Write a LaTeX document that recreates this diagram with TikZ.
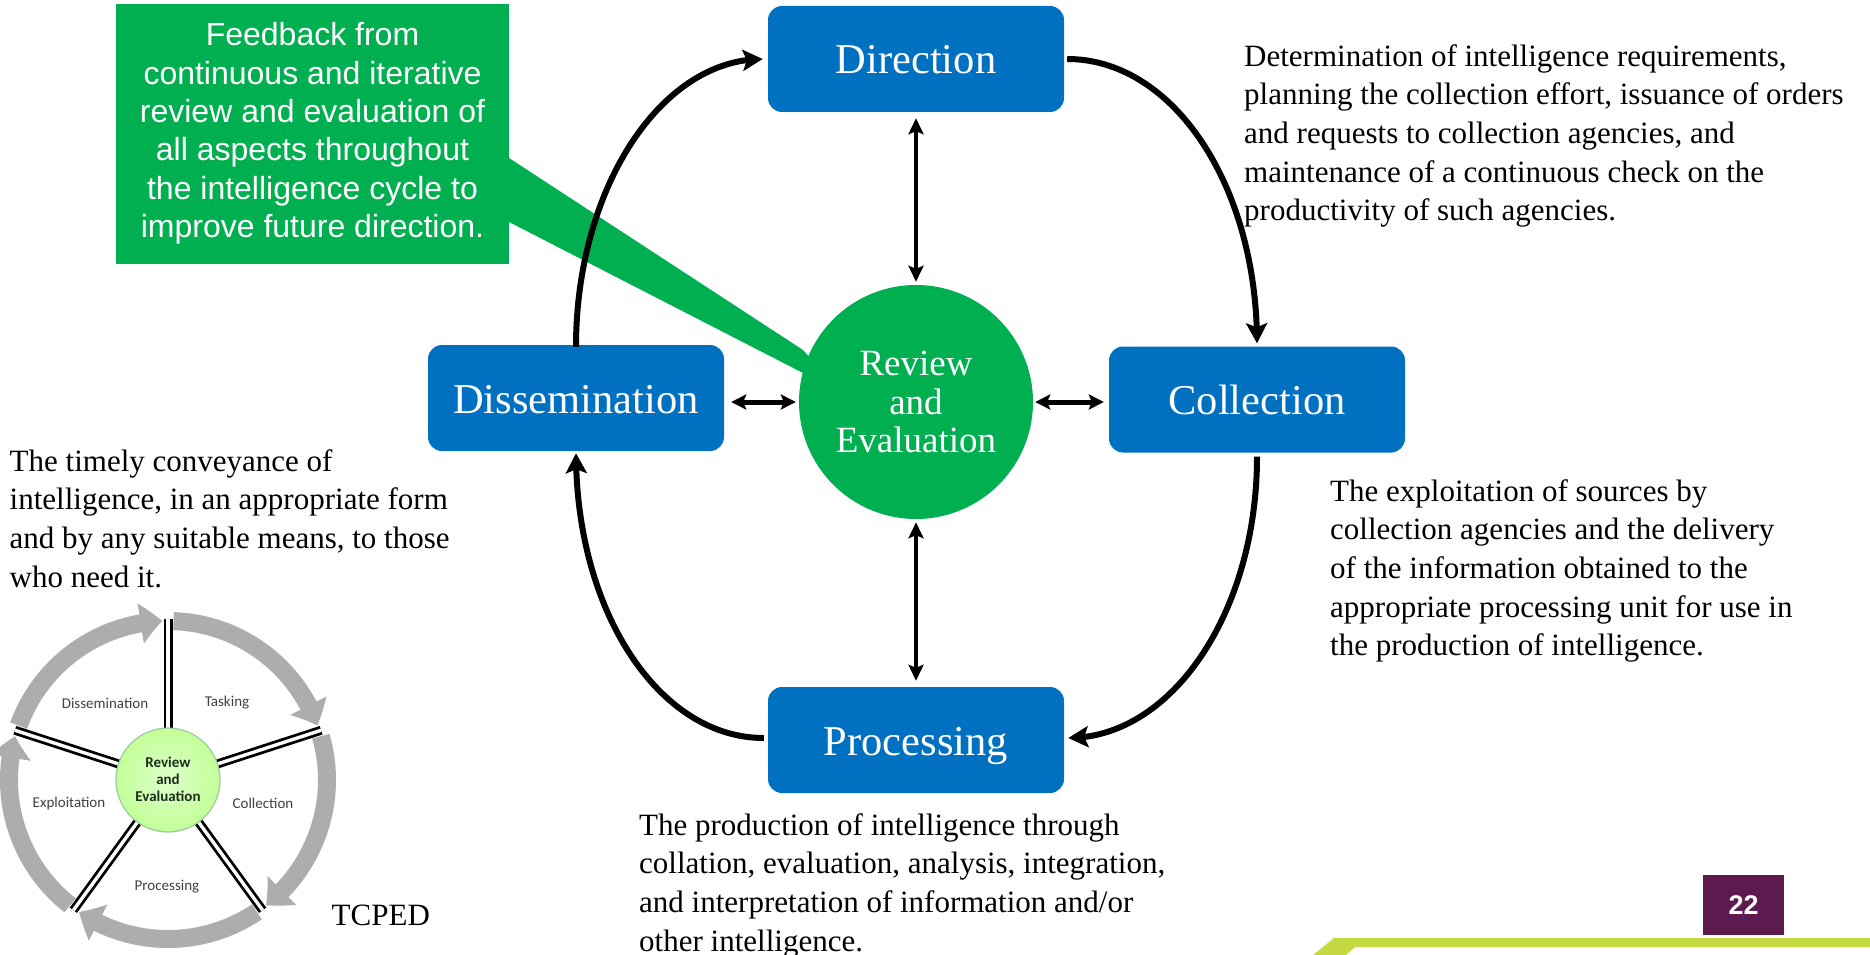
\documentclass[tikz,border=0pt]{standalone}
\usepackage{fontspec}
\setmainfont{Liberation Serif}
\newfontfamily\calloutfont{Liberation Sans}
\newfontfamily\wheelfont{Carlito}
\usetikzlibrary{arrows.meta,calc,bending}
\definecolor{boxblue}{HTML}{0070C0}
\definecolor{rvgreen}{HTML}{00B050}
\definecolor{pagepurple}{HTML}{5C1A4F}
\definecolor{barlime}{HTML}{C4D942}
\definecolor{ringgrey}{HTML}{ADADAD}
\definecolor{wheeltext}{HTML}{404040}
\definecolor{hubtext}{HTML}{1E2E1E}
\begin{document}
\begin{tikzpicture}[x=1pt,y=1pt,
  stagebox/.style={fill=boxblue, rounded corners=14pt, minimum width=296pt,
    minimum height=106pt, text=white, inner sep=0pt, text height=30pt, text depth=0pt,
    font=\fontsize{42.5}{44}\selectfont},
  note/.style={anchor=north west, align=left, inner sep=0pt,
    font=\fontsize{31}{38.7}\selectfont},
  cyc/.style={line width=6pt, -{Stealth[length=20pt,width=21pt,inset=4pt]}},
  hlink/.style={line width=5pt, {Stealth[length=15pt,width=15pt,inset=3pt]}-{Stealth[length=15pt,width=15pt,inset=3pt]}},
  vlink/.style={line width=3.5pt, {Stealth[length=16pt,width=15pt,inset=3pt]}-{Stealth[length=16pt,width=15pt,inset=3pt]}},
  ringarrow/.style={line width=18pt, ringgrey, -{Triangle[length=22pt,width=39pt,bend]}},
  spoke/.style={line width=9pt, black},
  spokegap/.style={line width=3.4pt, white},
  wheellabel/.style={font=\wheelfont\fontsize{15}{17}\selectfont, text=wheeltext, inner sep=0pt}
]
\useasboundingbox (0,0) rectangle (1870,-955);

% feedback callout with its pointer towards the hub
\fill[rvgreen] (509,-158) -- (803,-350) -- (830,-380) -- (803,-373) -- (509,-222) -- cycle;
\node[fill=rvgreen, minimum width=393pt, minimum height=260pt, inner sep=0pt] (callbox) at (312.5,-134) {};
\node[text=white, align=center, inner sep=0pt, font=\calloutfont\fontsize{32}{38.4}\selectfont] (calltext) at (312.5,-133.5)
  {Feedback from\\continuous and iterative\\review and evaluation of\\all aspects throughout\\the intelligence cycle to\\improve future direction.};

% the four stages and the hub
\node[stagebox] (dir)  at (916,-59)    {Direction};
\node[stagebox] (coll) at (1257,-399.5) {Collection};
\node[stagebox] (diss) at (576,-398)   {Dissemination};
\node[stagebox] (proc) at (916,-740)   {Processing};
\node[circle, fill=rvgreen, minimum size=234pt, inner sep=0pt, text=white, align=center,
  font=\fontsize{37}{38.8}\selectfont] (rev) at (916,-402) {Review\\and\\Evaluation};

% the cycle
\draw[cyc] ([yshift=-2pt]diss.north) .. controls +(0,157) and +(-103,0) .. ([xshift=-5pt]dir.west);
\draw[cyc] ([xshift=3pt]dir.east) .. controls +(106,0) and +(0,158) .. ([yshift=3pt]coll.north);
\draw[cyc] ([yshift=-4pt]coll.south) .. controls +(0,-155) and +(104,0) .. ([xshift=4pt,yshift=2pt]proc.east);
\draw[cyc] ([xshift=-4pt,yshift=2pt]proc.west) .. controls +(-105,0) and +(0,-158) .. ([yshift=-2pt]diss.south);

% links to the hub
\draw[vlink] ([yshift=-6pt]dir.south) -- ([yshift=3pt]rev.north);
\draw[vlink] ([yshift=-3pt]rev.south) -- ([yshift=6pt]proc.north);
\draw[hlink] ([xshift=7pt]diss.east |- rev.center) -- ([xshift=-3pt]rev.west);
\draw[hlink] ([xshift=2pt]rev.east) -- ([xshift=-5pt]coll.west |- rev.center);

% stage descriptions
\node[note] (dirnote) at (1244,-44)
  {Determination of intelligence requirements,\\planning the collection effort, issuance of orders\\and requests to collection agencies, and\\maintenance of a continuous check on the\\productivity of such agencies.};
\node[note] (collnote) at (1330,-479)
  {The exploitation of sources by\\collection agencies and the delivery\\of the information obtained to the\\appropriate processing unit for use in\\the production of intelligence.};
\node[note] (dissnote) at (9.5,-449)
  {The timely conveyance of\\intelligence, in an appropriate form\\and by any suitable means, to those\\who need it.};
\node[note] (procnote) at (639,-813)
  {The production of intelligence through\\collation, evaluation, analysis, integration,\\and interpretation of information and/or\\other intelligence.};

% TCPED wheel
\begin{scope}[shift={(168,-780)}]
  \foreach \a in {90,18,-54,-126,162}{
    \draw[ringarrow] (\a-2:159) arc[start angle=\a-2, end angle=\a-70, radius=159];
  }
  \foreach \a in {90,18,-54,-126,162}{
    \draw[spoke] (\a:50) -- (\a:161);
    \draw[spokegap] (\a:50) -- (\a:161);
  }
  \shade[inner color=green!12!white!90!lime, outer color=green!45!lime!40!white] (0,0) circle[radius=52];
  \draw[green!30!gray!60, line width=1.2pt] (0,0) circle[radius=52];
  \node[font=\wheelfont\bfseries\fontsize{15}{17}\selectfont, text=hubtext, align=center, inner sep=0pt] (hub) at (0,1) {Review\\and\\Evaluation};
  \node[wheellabel] (wdiss) at (-63,77) {Dissemination};
  \node[wheellabel] (wtask) at (59,77) {Tasking};
  \node[wheellabel] (wexpl) at (-99,-23) {Exploitation};
  \node[wheellabel] (wcoll) at (95,-23) {Collection};
  \node[wheellabel] (wproc) at (-1,-107) {Processing};
\end{scope}
\node[anchor=west, inner sep=0pt, font=\fontsize{31}{36}\selectfont] (tcped) at (331.5,-915) {TCPED};

% page number and footer bar
\node[fill=pagepurple, minimum width=81pt, minimum height=60pt, inner sep=0pt, text=white,
  font=\calloutfont\bfseries\fontsize{27}{30}\selectfont] (pagenum) at (1743.5,-905) {22};
\fill[barlime] (1313,-955) -- (1334,-938) -- (1870,-938) -- (1870,-947) -- (1355,-947) -- (1346,-955) -- cycle;
\end{tikzpicture}
\end{document}
